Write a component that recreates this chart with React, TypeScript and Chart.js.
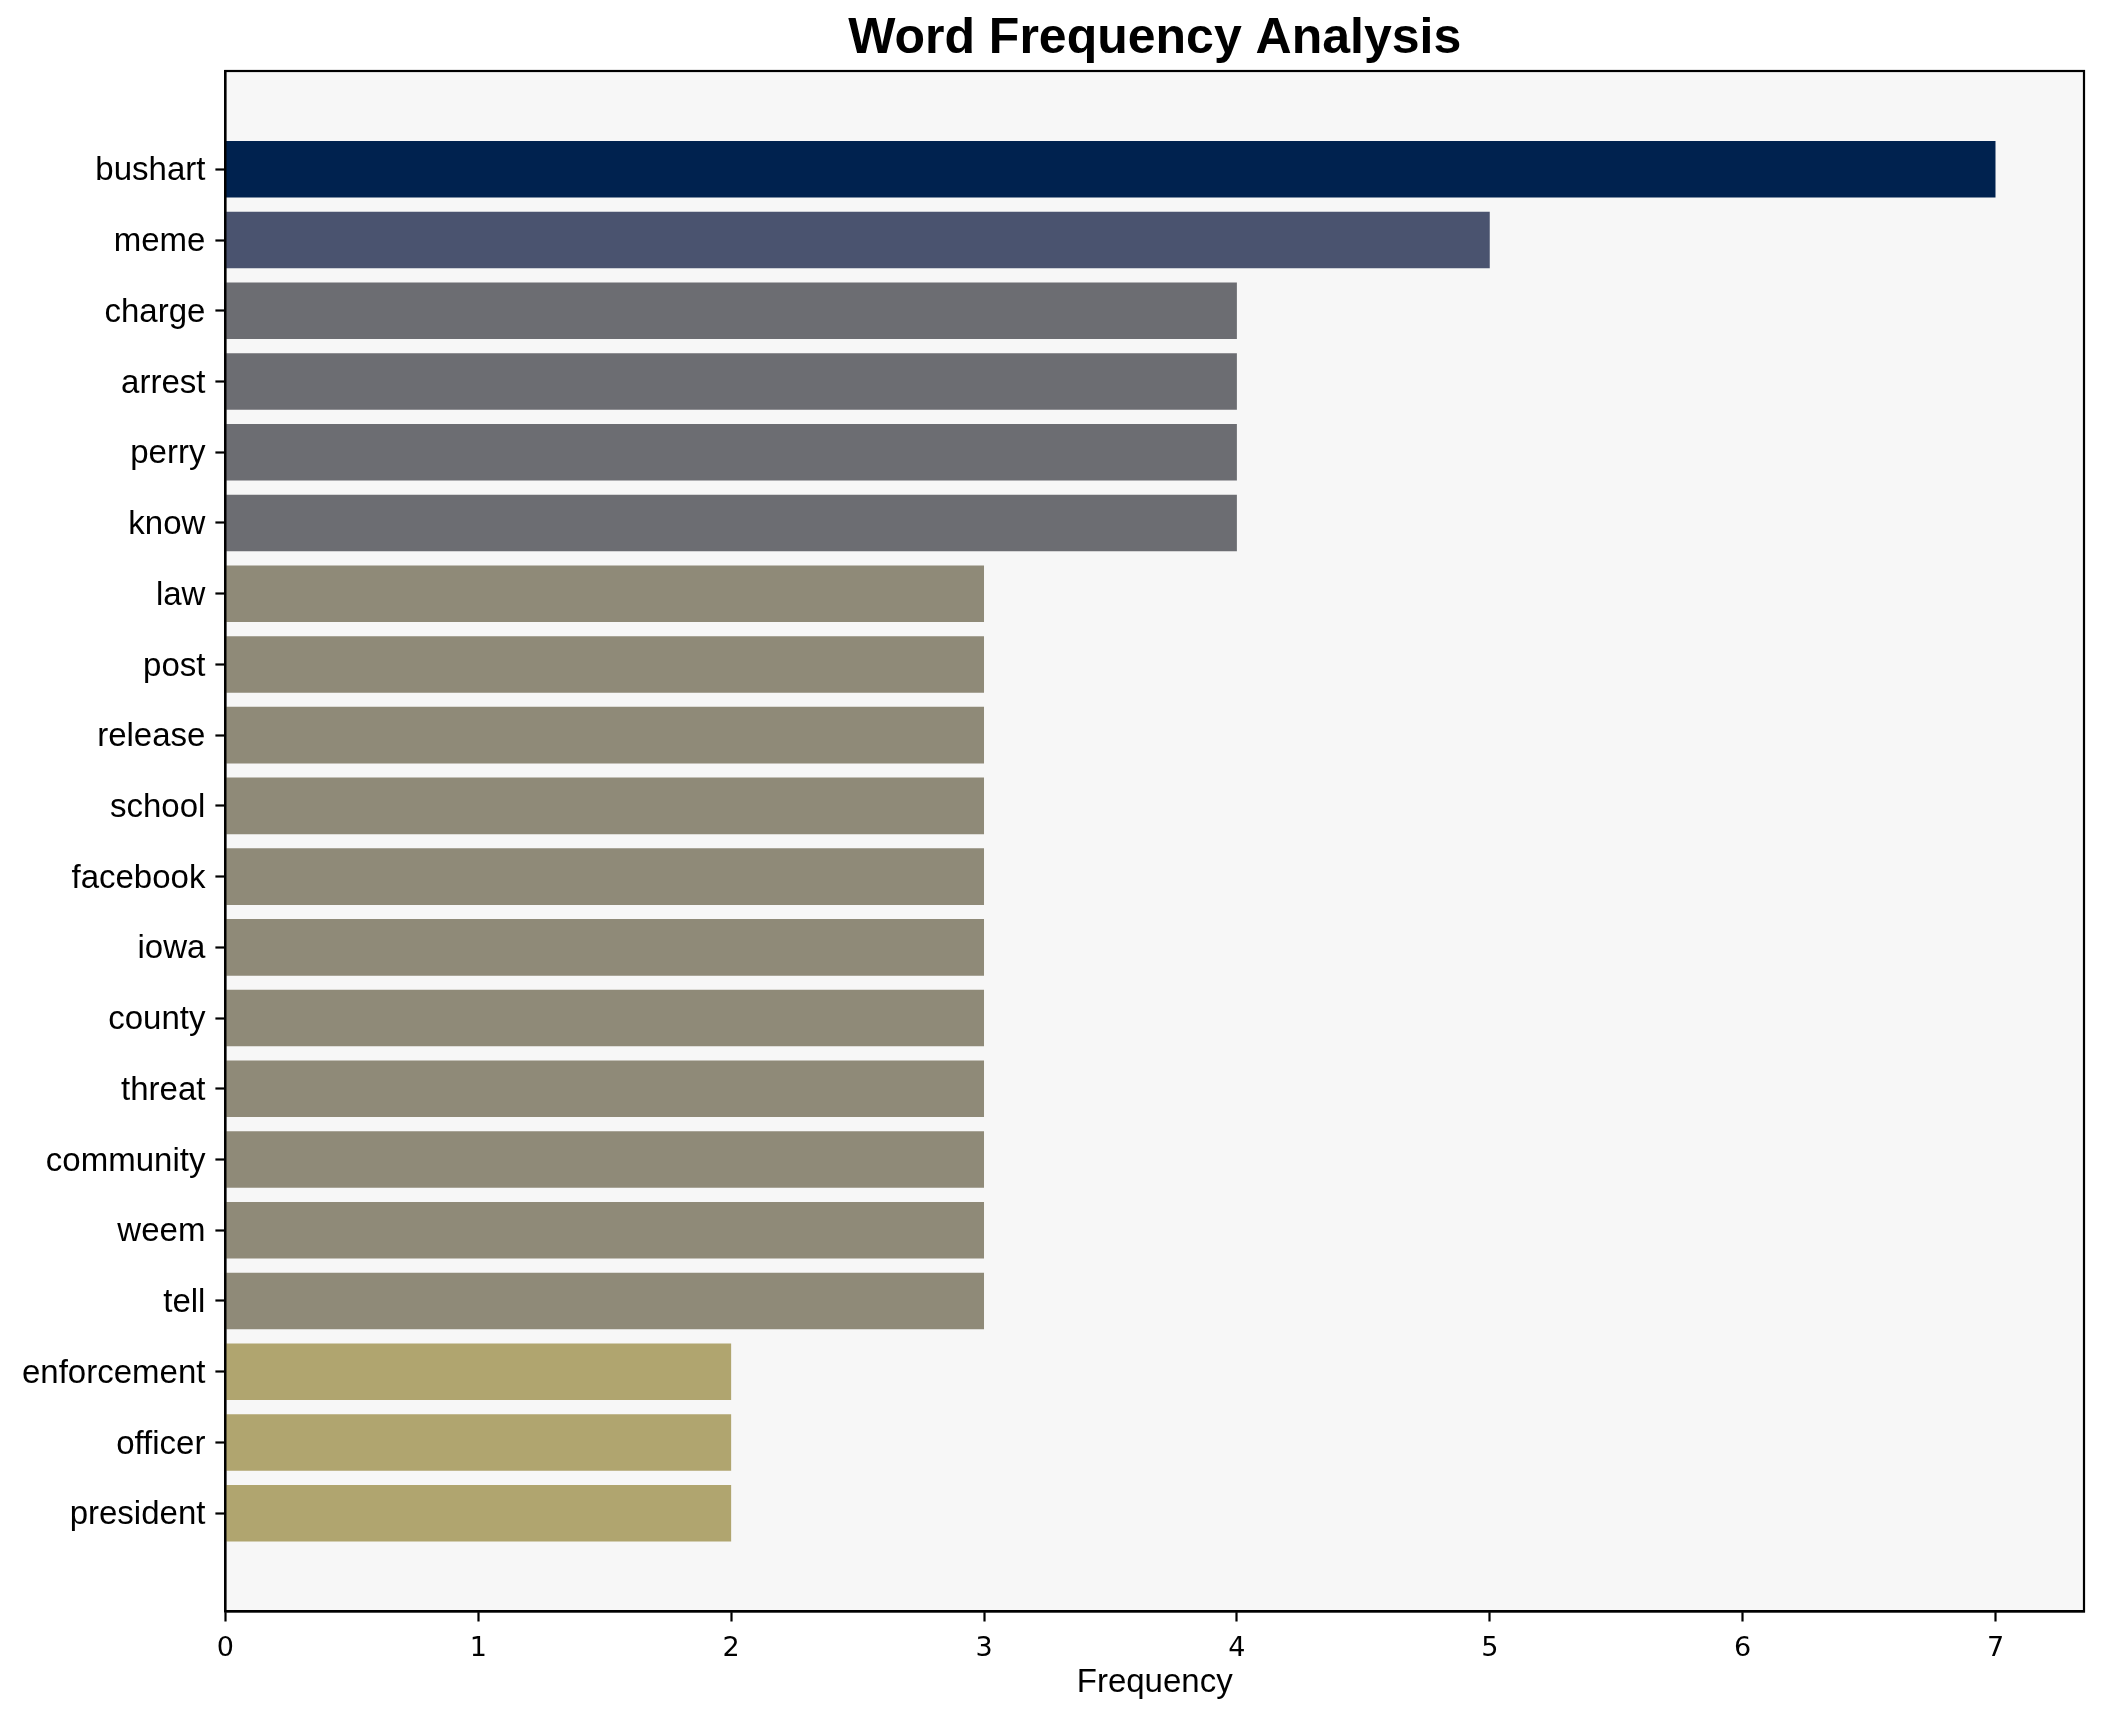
import React, { useEffect, useRef } from "react";
import { Chart, registerables } from "chart.js";

Chart.register(...registerables);

const words = [
  "bushart", "meme", "charge", "arrest", "perry", "know", "law", "post", "release", "school",
  "facebook", "iowa", "county", "threat", "community", "weem", "tell", "enforcement", "officer", "president",
];
const frequencies = [7, 5, 4, 4, 4, 4, 3, 3, 3, 3, 3, 3, 3, 3, 3, 3, 3, 2, 2, 2];
const xTicks = [0, 1, 2, 3, 4, 5, 6, 7];

const colorByValue: Record<number, string> = {
  7: "#00224f",
  5: "#4a536f",
  4: "#6c6d72",
  3: "#8f8a78",
  2: "#b0a56f",
};

const FONT = "'Liberation Sans', Arial, Helvetica, sans-serif";
const TICK_FONT = "'DejaVu Sans', sans-serif";

export default function App() {
  const ref = useRef<HTMLCanvasElement | null>(null);

  useEffect(() => {
    document.body.style.margin = "0";
    const canvas = ref.current;
    if (!canvas) return;

    const bgPlugin = {
      id: "bgAndFrame",
      beforeDraw(chart: any) {
        const { ctx, chartArea: a } = chart;
        ctx.save();
        ctx.fillStyle = "#ffffff";
        ctx.fillRect(0, 0, chart.width, chart.height);
        ctx.fillStyle = "#f7f7f7";
        ctx.fillRect(a.left, a.top, a.right - a.left, a.bottom - a.top);
        ctx.restore();
      },
      afterDraw(chart: any) {
        const { ctx, chartArea: a } = chart;
        ctx.save();
        ctx.strokeStyle = "#000000";
        ctx.lineWidth = 2.2;
        ctx.strokeRect(a.left, a.top, a.right - a.left, a.bottom - a.top);
        ctx.fillStyle = "#000000";
        ctx.font = `bold 50px ${FONT}`;
        ctx.textAlign = "center";
        ctx.textBaseline = "middle";
        ctx.fillText("Word Frequency Analysis", (a.left + a.right) / 2, 39);
        ctx.restore();
      },
    };

    const chart = new Chart(canvas, {
      type: "bar",
      data: {
        datasets: [
          {
            data: frequencies.map((v, i) => ({ x: v, y: i })),
            backgroundColor: frequencies.map((v) => colorByValue[v]),
            borderWidth: 0,
            categoryPercentage: 0.8,
            barPercentage: 1,
          } as any,
        ],
      },
      options: {
        indexAxis: "y",
        animation: false,
        responsive: false,
        devicePixelRatio: 1,
        layout: { padding: { top: 71, right: 20, bottom: 0, left: 0 } },
        plugins: {
          legend: { display: false },
          title: { display: false },
          tooltip: { enabled: false },
        },
        scales: {
          x: {
            type: "linear",
            position: "bottom",
            min: 0,
            max: 7.35,
            offset: false,
            afterBuildTicks: (s: any) => {
              s.ticks = xTicks.map((v) => ({ value: v }));
            },
            afterFit: (s: any) => {
              s.height = 110.5;
            },
            grid: {
              offset: false,
              drawOnChartArea: false,
              drawTicks: true,
              tickLength: 10,
              tickWidth: 2.2,
              tickColor: "#000000",
            },
            border: { display: true, color: "#000000", width: 2.2 },
            ticks: {
              color: "#000000",
              font: { family: TICK_FONT, size: 27 },
              padding: 11,
              maxRotation: 0,
              callback: (v: any) => String(v),
            },
            title: {
              display: true,
              text: "Frequency",
              color: "#000000",
              font: { family: FONT, size: 33 },
              padding: { top: 0, bottom: 19 },
            },
          },
          y: {
            type: "linear",
            position: "left",
            reverse: true,
            min: -1.39,
            max: 20.39,
            offset: false,
            afterBuildTicks: (s: any) => {
              s.ticks = words.map((_, i) => ({ value: i }));
            },
            afterFit: (s: any) => {
              s.width = 225.4;
            },
            grid: {
              offset: false,
              drawOnChartArea: false,
              drawTicks: true,
              tickLength: 10,
              tickWidth: 2.2,
              tickColor: "#000000",
            },
            border: { display: true, color: "#000000", width: 2.2 },
            ticks: {
              color: "#000000",
              font: { family: FONT, size: 33 },
              padding: 10,
              labelOffset: 2,
              autoSkip: false,
              callback: (v: any) => words[Math.round(Number(v))] ?? "",
            },
          },
        },
      },
      plugins: [bgPlugin],
    } as any);

    return () => chart.destroy();
  }, []);

  return (
    <div style={{ position: "absolute", left: 0, top: 0, width: 2104, height: 1722 }}>
      <canvas ref={ref} width={2104} height={1722} style={{ width: 2104, height: 1722, display: "block" }} />
    </div>
  );
}
